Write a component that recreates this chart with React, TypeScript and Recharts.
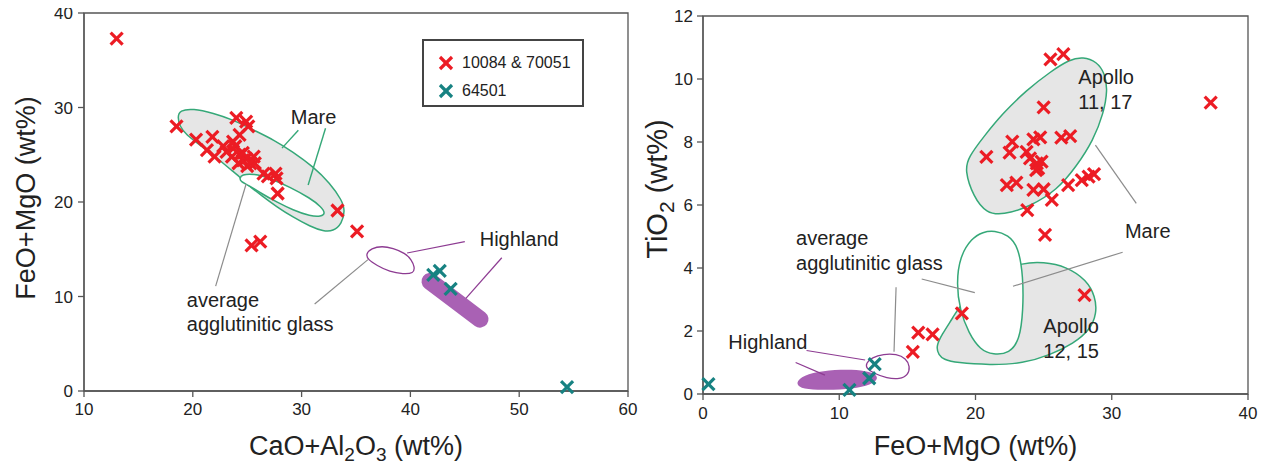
import React from 'react';
import { ScatterChart, Scatter, XAxis, YAxis, ReferenceArea, Label } from 'recharts';

// ---- left panel: CaO+Al2O3 vs FeO+MgO ----
const leftRed = [
  [13, 37.3], [18.5, 28.0], [20.3, 26.6], [21.8, 26.9], [21.3, 25.5], [22.0, 24.8],
  [22.8, 25.9], [23.1, 25.3], [23.7, 26.4], [23.9, 25.9], [24.0, 28.9], [24.9, 28.5],
  [25.1, 28.0], [24.3, 27.1], [23.6, 24.8], [24.3, 25.0], [24.6, 24.4], [24.9, 24.6],
  [25.6, 24.8], [25.3, 24.1], [24.2, 24.1], [25.7, 24.1], [24.6, 25.2], [25.0, 23.8],
  [26.5, 23.0], [26.9, 22.7], [27.7, 22.5], [27.6, 23.0], [27.8, 20.9], [33.3, 19.1],
  [35.1, 16.9], [25.4, 15.4], [26.2, 15.8],
];
const leftTeal = [[42.1, 12.3], [42.7, 12.7], [43.7, 10.8], [54.4, 0.4]];

const leftMare = [
  [18.8, 29.7], [20.0, 29.9], [21.9, 29.4], [23.7, 28.7], [25.6, 27.6], [27.4, 26.6],
  [29.2, 25.3], [31.1, 23.7], [32.6, 22.0], [33.7, 20.2], [34.0, 19.1], [33.7, 17.7],
  [32.9, 16.9], [32.0, 16.9], [30.8, 17.4], [29.2, 18.4], [27.7, 19.5], [26.3, 20.7],
  [25.3, 21.6], [24.6, 22.2], [24.3, 22.7], [23.7, 23.2], [22.5, 24.4], [20.7, 26.0],
  [19.4, 27.1], [18.8, 28.0], [18.6, 29.0],
];
const leftMareGlass = [
  [24.5, 22.9], [25.6, 23.0], [27.1, 22.5], [28.9, 21.6], [30.8, 20.4], [31.8, 19.5],
  [32.2, 18.8], [31.8, 18.45], [30.8, 18.5], [29.2, 19.15], [27.7, 20.0], [26.3, 20.9],
  [25.1, 21.8], [24.4, 22.15], [24.3, 22.5],
];
const leftHighGlass = [
  [35.9, 14.5], [36.4, 15.1], [37.4, 15.35], [38.4, 15.1], [39.5, 14.6], [40.1, 13.9],
  [40.4, 13.1], [40.3, 12.45], [39.35, 12.38], [38.1, 12.6], [36.9, 13.3], [36.1, 13.9],
];
const leftHighland = [[41.8, 11.6], [46.4, 7.6]];

const leftMareLeadA = [[29.7, 27.6], [28.2, 25.7]];
const leftMareLeadB = [[32.2, 27.8], [30.6, 21.8]];
const leftGlassLeadA = [[22.1, 11.1], [24.9, 21.9]];
const leftGlassLeadB = [[31.2, 9.2], [36.1, 13.9]];
const leftHighLeadA = [[39.7, 14.6], [45.0, 15.8]];
const leftHighLeadB = [[45.1, 9.8], [48.4, 14.1]];

const leftXTicks = [10, 20, 30, 40, 50, 60];
const leftYTicks = [0, 10, 20, 30, 40];

// ---- right panel: FeO+MgO vs TiO2 ----
const rightRed = [
  [25.5, 10.62], [26.45, 10.79], [25.0, 9.1], [20.8, 7.53], [22.7, 8.01], [22.5, 7.66],
  [23.75, 7.69], [24.25, 8.08], [24.75, 8.15], [24.0, 7.48], [24.5, 7.32], [24.85, 7.38],
  [24.6, 7.16], [24.45, 7.11], [26.3, 8.14], [26.95, 8.19], [22.3, 6.63], [23.0, 6.71],
  [24.25, 6.48], [25.0, 6.5], [25.6, 6.16], [23.8, 5.84], [26.8, 6.63], [27.8, 6.79],
  [28.3, 6.9], [28.7, 6.98], [37.26, 9.25], [25.1, 5.05], [19.0, 2.56], [15.8, 1.95],
  [16.85, 1.89], [15.4, 1.34], [28.0, 3.14],
];
const rightTeal = [[0.4, 0.31], [10.75, 0.13], [12.2, 0.5], [12.6, 0.95]];

const rightApollo1117 = [
  [27.9, 10.71], [28.9, 10.55], [29.5, 10.18], [29.7, 9.65], [29.4, 8.91], [28.65, 8.06],
  [27.4, 7.22], [26.0, 6.48], [24.0, 5.95], [22.0, 5.68], [20.8, 5.74], [19.85, 6.26],
  [19.2, 7.11], [19.5, 7.53], [20.6, 8.17], [22.0, 8.91], [23.75, 9.65], [25.5, 10.23],
  [26.9, 10.62],
];
const rightApollo1215 = [
  [17.3, 1.24], [17.1, 1.5], [17.5, 1.87], [18.4, 2.46], [18.8, 2.77], [19.6, 3.09],
  [22.3, 3.94], [23.3, 4.15], [25.0, 4.2], [26.7, 4.04], [28.15, 3.62], [28.8, 3.09],
  [28.9, 2.56], [28.4, 2.03], [27.2, 1.61], [25.5, 1.24], [23.5, 0.97], [21.05, 0.92],
  [18.6, 0.99], [17.65, 1.1],
];
const rightMareGlass = [
  [21.4, 5.19], [22.4, 5.05], [23.15, 4.68], [23.5, 3.72], [23.5, 2.67], [23.25, 1.72],
  [22.5, 1.29], [21.3, 1.24], [20.35, 1.4], [19.5, 1.93], [18.85, 2.67], [18.6, 3.51],
  [18.85, 4.36], [19.7, 4.94], [20.55, 5.15],
];
const rightHighGlass = [
  [11.95, 0.97], [12.4, 1.16], [13.25, 1.27], [14.2, 1.27], [14.9, 1.13], [15.2, 0.87],
  [15.05, 0.6], [14.45, 0.47], [13.5, 0.5], [12.5, 0.66], [12.0, 0.81],
];
const rightHighland = [
  [6.8, 0.36], [7.35, 0.6], [8.8, 0.74], [10.55, 0.78], [12.0, 0.74], [12.85, 0.6],
  [12.75, 0.39], [11.75, 0.21], [10.05, 0.13], [8.35, 0.13], [7.1, 0.18],
];

const rightApolloLead = [[28.8, 7.9], [31.8, 6.05]];
const rightMareLead = [[30.8, 4.5], [22.75, 3.42]];
const rightGlassLeadA = [[16.05, 3.65], [19.95, 3.22]];
const rightGlassLeadB = [[14.17, 3.39], [14.02, 1.34]];
const rightHighLeadA = [[7.6, 1.38], [11.9, 1.08]];
const rightHighLeadB = [[6.8, 1.0], [8.95, 0.6]];

const rightXTicks = [0, 10, 20, 30, 40];
const rightYTicks = [0, 2, 4, 6, 8, 10, 12];

const RED = '#ec1c24';
const TEAL = '#178282';
const GREEN = '#35a878';
const FIELD = '#e6e6e6';
const PURPLE = '#8d3b92';
const PURPLE_FILL = '#a961b4';
const LEAD = '#8c8c8c';
const AXIS = '#555';
const INK = '#222';
const FONT = '"Liberation Sans", Arial, sans-serif';

const pts = (a: number[][]) => a.map(([x, y]) => ({ x, y }));

const cross = (color: string) => (p: any) => {
  const { cx, cy } = p;
  const s = 6;
  return (
    <g stroke={color} strokeWidth={3.2}>
      <line x1={cx - s} y1={cy - s} x2={cx + s} y2={cy + s} />
      <line x1={cx - s} y1={cy + s} x2={cx + s} y2={cy - s} />
    </g>
  );
};

const hidden = () => <g />;

const field = (key: string, data: number[][], fill: string, stroke: string, width = 1.5) => (
  <Scatter
    key={key}
    data={pts(data)}
    shape={hidden}
    line={{ fill, stroke, strokeWidth: width }}
    lineJointType="basisClosed"
    isAnimationActive={false}
  />
);

const lead = (key: string, data: number[][], stroke: string, width = 1.2, cap = 'butt') => (
  <Scatter
    key={key}
    data={pts(data)}
    shape={hidden}
    line={{ stroke, strokeWidth: width, strokeLinecap: cap }}
    lineJointType="linear"
    isAnimationActive={false}
  />
);

const note = (key: string, x: number, y: number, text: string, anchor = 'start') => (
  <Scatter
    key={key}
    data={[{ x, y }]}
    shape={(p: any) => (
      <text x={p.cx} y={p.cy} textAnchor={anchor} fontSize={20} fill={INK} fontFamily={FONT}>
        {text}
      </text>
    )}
    isAnimationActive={false}
  />
);

const tickStyle = { fontSize: 17, fill: INK, fontFamily: FONT };

const LeftChart = () => (
  <ScatterChart width={640} height={469} margin={{ top: 13, right: 12, left: 0, bottom: 0 }}>
    <XAxis
      type="number"
      dataKey="x"
      domain={[10, 60]}
      ticks={leftXTicks}
      height={78}
      tick={tickStyle}
      tickSize={6}
      tickMargin={6}
      stroke={AXIS}
      strokeWidth={1.3}
    >
      <Label
        content={(p: any) => {
          const vb = p.viewBox;
          return (
            <text x={vb.x + vb.width / 2} y={vb.y + 64} textAnchor="middle" fontSize={27} fill={INK} fontFamily={FONT}>
              CaO+Al<tspan dy={6} fontSize={19}>2</tspan>
              <tspan dy={-6}>O</tspan>
              <tspan dy={6} fontSize={19}>3</tspan>
              <tspan dy={-6}> (wt%)</tspan>
            </text>
          );
        }}
      />
    </XAxis>
    <YAxis
      type="number"
      dataKey="y"
      domain={[0, 40]}
      ticks={leftYTicks}
      width={84}
      tick={tickStyle}
      tickSize={6}
      tickMargin={5}
      stroke={AXIS}
      strokeWidth={1.3}
    >
      <Label
        content={(p: any) => {
          const vb = p.viewBox;
          const cx = 25;
          const cy = vb.y + vb.height / 2 - 4;
          return (
            <text x={cx} y={cy} dy="0.36em" textAnchor="middle" fontSize={27} fill={INK} fontFamily={FONT} transform={`rotate(-90, ${cx}, ${cy})`}>
              FeO+MgO (wt%)
            </text>
          );
        }}
      />
    </YAxis>
    <ReferenceArea x1={10} x2={60} y1={0} y2={40} fill="none" stroke={AXIS} strokeWidth={1.3} />
    {field('mare', leftMare, FIELD, GREEN)}
    {field('mareGlass', leftMareGlass, '#ffffff', GREEN)}
    {field('highGlass', leftHighGlass, '#ffffff', PURPLE, 1.3)}
    {lead('highland', leftHighland, PURPLE_FILL, 17, 'round')}
    {lead('mA', leftMareLeadA, GREEN, 1.4)}
    {lead('mB', leftMareLeadB, GREEN, 1.4)}
    {lead('gA', leftGlassLeadA, LEAD)}
    {lead('gB', leftGlassLeadB, LEAD)}
    {lead('hA', leftHighLeadA, PURPLE)}
    {lead('hB', leftHighLeadB, PURPLE)}
    {note('tMare', 31.1, 28.3, 'Mare', 'middle')}
    {note('tHigh', 50.0, 15.3, 'Highland', 'middle')}
    {note('tAvg', 19.45, 8.9, 'average')}
    {note('tAgg', 19.45, 6.4, 'agglutinitic glass')}
    <Scatter data={pts(leftRed)} shape={cross(RED)} isAnimationActive={false} />
    <Scatter data={pts(leftTeal)} shape={cross(TEAL)} isAnimationActive={false} />
  </ScatterChart>
);

const RightChart = () => (
  <ScatterChart width={630} height={469} margin={{ top: 16, right: 22, left: 0, bottom: 0 }}>
    <XAxis
      type="number"
      dataKey="x"
      domain={[0, 40]}
      ticks={rightXTicks}
      height={75}
      tick={tickStyle}
      tickSize={6}
      tickMargin={7}
      stroke={AXIS}
      strokeWidth={1.3}
    >
      <Label
        content={(p: any) => {
          const vb = p.viewBox;
          return (
            <text x={vb.x + vb.width / 2} y={vb.y + 61} textAnchor="middle" fontSize={27} fill={INK} fontFamily={FONT}>
              FeO+MgO (wt%)
            </text>
          );
        }}
      />
    </XAxis>
    <YAxis
      type="number"
      dataKey="y"
      domain={[0, 12]}
      ticks={rightYTicks}
      width={63}
      tick={tickStyle}
      tickSize={6}
      tickMargin={4}
      stroke={AXIS}
      strokeWidth={1.3}
    >
      <Label
        content={(p: any) => {
          const vb = p.viewBox;
          const cx = 17;
          const cy = vb.y + vb.height / 2 - 16;
          return (
            <text x={cx} y={cy} dy="0.36em" textAnchor="middle" fontSize={29} fill={INK} fontFamily={FONT} transform={`rotate(-90, ${cx}, ${cy})`}>
              TiO<tspan dy={7} fontSize={21}>2</tspan>
              <tspan dy={-7}> (wt%)</tspan>
            </text>
          );
        }}
      />
    </YAxis>
    <ReferenceArea x1={0} x2={40} y1={0} y2={12} fill="none" stroke={AXIS} strokeWidth={1.3} />
    {field('a1117', rightApollo1117, FIELD, GREEN)}
    {field('a1215', rightApollo1215, FIELD, GREEN)}
    {field('mareGlass', rightMareGlass, '#ffffff', GREEN)}
    {field('highland', rightHighland, PURPLE_FILL, 'none', 0)}
    {field('highGlass', rightHighGlass, '#ffffff', PURPLE, 1.3)}
    {lead('aL', rightApolloLead, LEAD)}
    {lead('mL', rightMareLead, LEAD)}
    {lead('gA', rightGlassLeadA, LEAD)}
    {lead('gB', rightGlassLeadB, LEAD)}
    {lead('hA', rightHighLeadA, PURPLE)}
    {lead('hB', rightHighLeadB, PURPLE)}
    {note('tA1', 27.55, 9.84, 'Apollo')}
    {note('tA2', 27.55, 9.04, '11, 17')}
    {note('tMare', 30.97, 4.94, 'Mare')}
    {note('tAvg', 6.83, 4.73, 'average')}
    {note('tAgg', 6.83, 3.94, 'agglutinitic glass')}
    {note('tB1', 24.98, 1.93, 'Apollo')}
    {note('tB2', 24.98, 1.13, '12, 15')}
    {note('tHigh', 1.86, 1.43, 'Highland')}
    <Scatter data={pts(rightRed)} shape={cross(RED)} isAnimationActive={false} />
    <Scatter data={pts(rightTeal)} shape={cross(TEAL)} isAnimationActive={false} />
  </ScatterChart>
);

const LegendMark = ({ color }: { color: string }) => (
  <svg width={16} height={16} style={{ marginRight: 8 }}>
    <g stroke={color} strokeWidth={3.2}>
      <line x1={2} y1={2} x2={14} y2={14} />
      <line x1={2} y1={14} x2={14} y2={2} />
    </g>
  </svg>
);

const legendItems = [
  { label: '10084 & 70051', color: RED },
  { label: '64501', color: TEAL },
];

export default function App() {
  return (
    <div style={{ position: 'relative', width: 1270, height: 469, margin: -8, background: '#fff', fontFamily: FONT, overflow: 'hidden' }}>
      <div style={{ position: 'absolute', left: 0, top: 0 }}>
        <LeftChart />
      </div>
      <div style={{ position: 'absolute', left: 640, top: 0 }}>
        <RightChart />
      </div>
      <div
        style={{
          position: 'absolute',
          left: 422,
          top: 39,
          width: 162,
          height: 68,
          border: '2px solid #444',
          background: '#fff',
          padding: '8px 0 0 14px',
          boxSizing: 'border-box',
          fontSize: 16,
          color: INK,
        }}
      >
        {legendItems.map((it) => (
          <div key={it.label} style={{ display: 'flex', alignItems: 'center', height: 28 }}>
            <LegendMark color={it.color} />
            {it.label}
          </div>
        ))}
      </div>
    </div>
  );
}
